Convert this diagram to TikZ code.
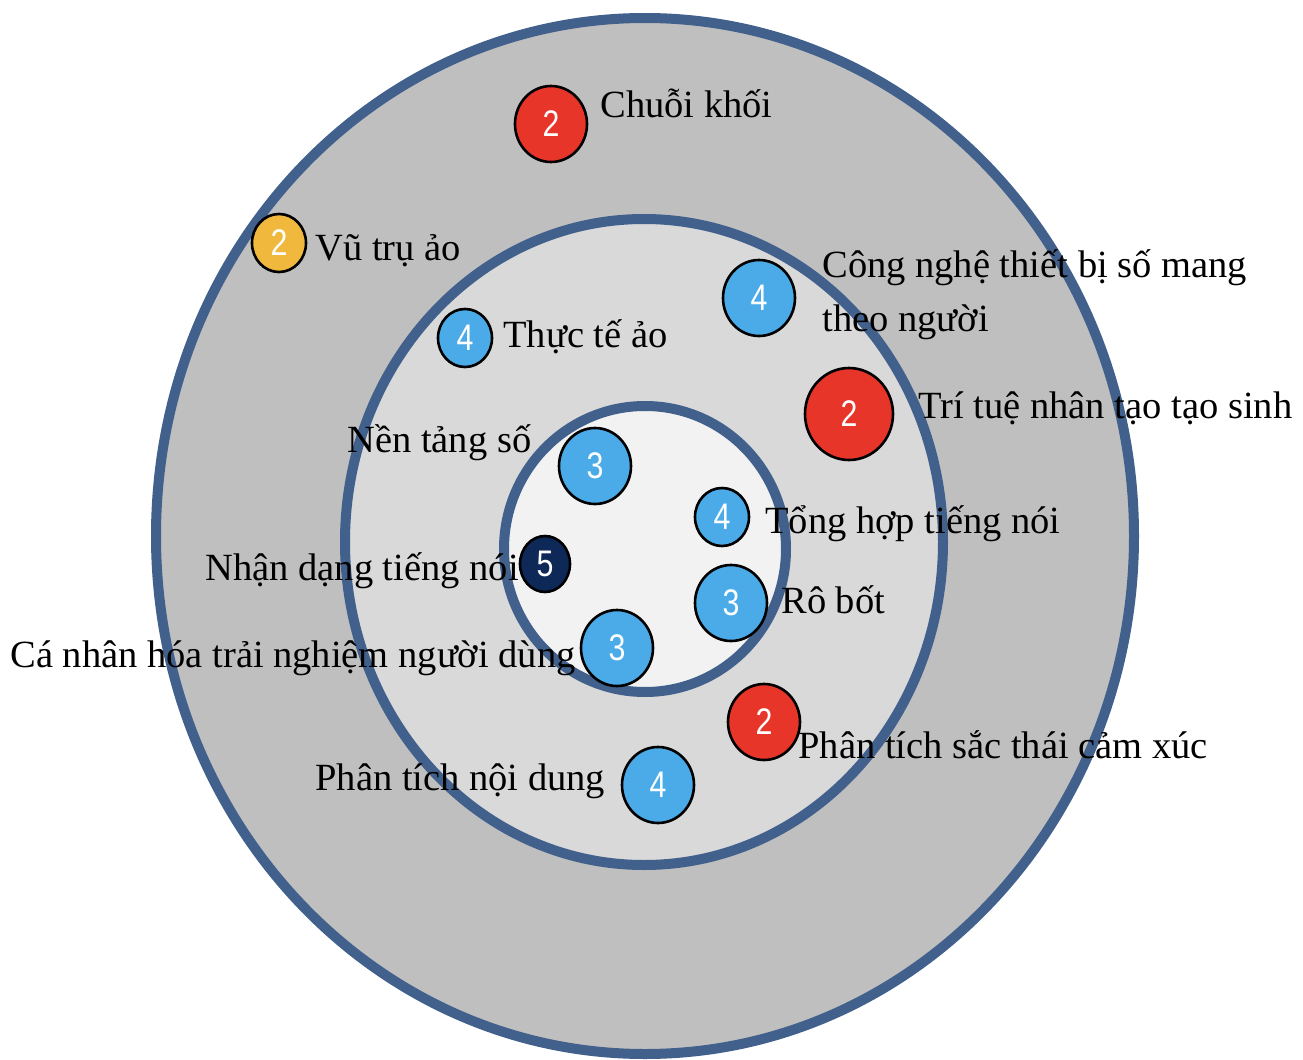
\documentclass[tikz,border=0pt]{standalone}
\usepackage{fontspec}
\setmainfont{Liberation Serif}
\newfontfamily\digitfont[FakeStretch=0.82]{Liberation Sans}
\usetikzlibrary{shapes.geometric}
\definecolor{ringBlue}{HTML}{41608C}
\definecolor{ringOuter}{HTML}{BFBFBF}
\definecolor{ringMid}{HTML}{D9D9D9}
\definecolor{ringInner}{HTML}{F2F2F2}
\definecolor{dotRed}{HTML}{E8352A}
\definecolor{dotBlue}{HTML}{4BAAE8}
\definecolor{dotYellow}{HTML}{F0B83C}
\definecolor{dotNavy}{HTML}{0E2858}
\tikzset{
  ring/.style={draw=ringBlue, line width=5pt},
  dot/.style={ellipse, draw=black, line width=1.3pt, inner sep=0pt, text=white,
    font=\digitfont\fontsize{18.5}{20}\selectfont,
    minimum width=36pt, minimum height=38pt},
  dotsmall/.style={dot, minimum width=27pt, minimum height=29pt},
  lbl/.style={anchor=base west, inner sep=0pt, align=left,
    font=\fontsize{19.25}{27}\selectfont},
}

\begin{document}
\begin{tikzpicture}[x=0.5pt, y=-0.5pt]
  \useasboundingbox (0,0) rectangle (1303,1060);
  % rings
  \draw[ring, fill=ringOuter] (645,536) ellipse [x radius=489, y radius=518];
  \draw[ring, fill=ringMid] (644,542) ellipse [x radius=299, y radius=323];
  \draw[ring, fill=ringInner] (645,549) ellipse [x radius=141, y radius=143];

  % labels
  \node[lbl] (chuoi) at (600,117) {Chuỗi khối};
  \node[lbl] (vutru) at (315,260) {Vũ trụ ảo};
  \node[lbl] (thucte) at (503,347) {Thực tế ảo};
  \node[lbl] (congnghe) at (822,331) {Công nghệ thiết bị số mang\\theo người};
  \node[lbl] (trithue) at (918,418) {Trí tuệ nhân tạo tạo sinh};
  \node[lbl] (nentang) at (347,452) {Nền tảng số};
  \node[lbl] (tonghop) at (765,533) {Tổng hợp tiếng nói};
  \node[lbl] (nhandang) at (205,580) {Nhận dạng tiếng nói};
  \node[lbl] (robot) at (781,613) {Rô bốt};
  \node[lbl] (canhan) at (10,667) {Cá nhân hóa trải nghiệm người dùng};
  \node[lbl] (camxuc) at (798,758) {Phân tích sắc thái cảm xúc};
  \node[lbl] (noidung) at (315,790) {Phân tích nội dung};

  % dots
  \node[dot, fill=dotRed] (dchuoi) at (551,124) {2};
  \node[dotsmall, fill=dotYellow] (dvutru) at (279,243) {2};
  \node[dotsmall, fill=dotBlue] (dthucte) at (465,338) {4};
  \node[dot, fill=dotBlue] (dcongnghe) at (759,298) {4};
  \node[dot, fill=dotRed, minimum width=44pt, minimum height=46pt] (dtrithue) at (849,414) {2};
  \node[dot, fill=dotBlue] (dnentang) at (595,466) {3};
  \node[dotsmall, fill=dotBlue] (dtonghop) at (722,517) {4};
  \node[dot, fill=dotNavy, minimum width=25pt, minimum height=28pt] (dnhandang) at (545,564) {5};
  \node[dot, fill=dotBlue] (drobot) at (731,603) {3};
  \node[dot, fill=dotBlue] (dcanhan) at (617,648) {3};
  \node[dot, fill=dotRed] (dcamxuc) at (764,722) {2};
  \node[dot, fill=dotBlue] (dnoidung) at (658,785) {4};
\end{tikzpicture}
\end{document}
